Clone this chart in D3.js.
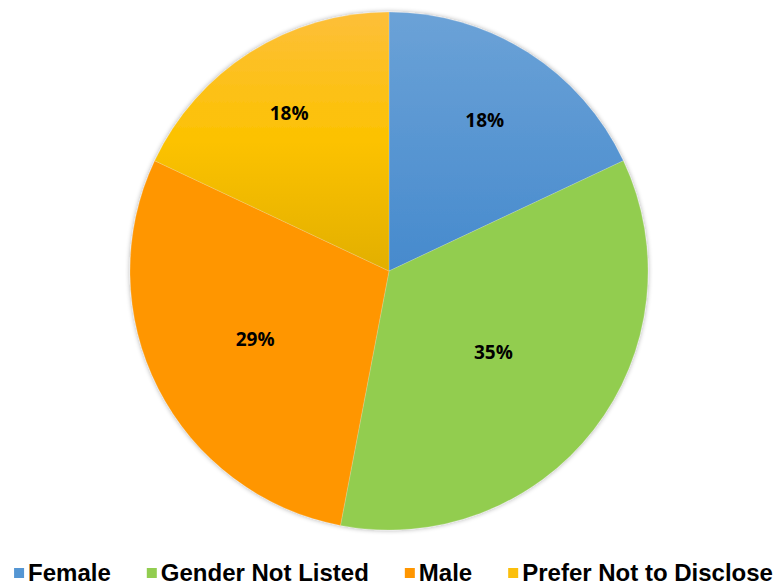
<!DOCTYPE html>
<html>
<head>
<meta charset="utf-8">
<script src="https://d3js.org/d3.v7.min.js"></script>
<style>
  body { margin: 0; background: #fff; }
  .slice-label { font-family: "Open Sans", "Liberation Sans", sans-serif; font-weight: bold; font-size: 19px; fill: #000; }
  .legend-text { font-family: "Liberation Sans", Arial, sans-serif; font-weight: bold; font-size: 24px; fill: #000; }
</style>
</head>
<body>
<script>
// chart data
var categories = ["Female", "Gender Not Listed", "Male", "Prefer Not to Disclose"];
var values = [18, 35, 29, 18];
var colors = ["#5596d3", "#92cd50", "#ff9600", "#fbbf0c"];

var width = 779, height = 586;
var cx = 389, cy = 271, radius = 259;
// where each label sits along its slice, as a share of the radius
var labelRadii = [0.69, 0.51, 0.58, 0.72];

var svg = d3.select("body").append("svg")
    .attr("width", width)
    .attr("height", height);

var defs = svg.append("defs");

// soft shadow round the pie
var f = defs.append("filter").attr("id", "shadow")
    .attr("x", "-10%").attr("y", "-10%").attr("width", "120%").attr("height", "120%");
f.append("feGaussianBlur").attr("in", "SourceAlpha").attr("stdDeviation", 2.5);
f.append("feOffset").attr("dx", 0).attr("dy", 0).attr("result", "blur");
f.append("feComponentTransfer").append("feFuncA").attr("type", "linear").attr("slope", 0.35);
var m = f.append("feMerge");
m.append("feMergeNode");
m.append("feMergeNode").attr("in", "SourceGraphic");

// vertical shading on the blue and yellow slices (coords are relative to pie centre)
var blueGrad = defs.append("linearGradient").attr("id", "g0")
    .attr("gradientUnits", "userSpaceOnUse")
    .attr("x1", 0).attr("y1", -radius).attr("x2", 0).attr("y2", 0);
blueGrad.append("stop").attr("offset", "0%").attr("stop-color", "#6ba2d7");
blueGrad.append("stop").attr("offset", "100%").attr("stop-color", "#468acd");

var yellowGrad = defs.append("linearGradient").attr("id", "g3")
    .attr("gradientUnits", "userSpaceOnUse")
    .attr("x1", 0).attr("y1", -radius).attr("x2", 0).attr("y2", 0);
yellowGrad.append("stop").attr("offset", "0%").attr("stop-color", "#fdbf3a");
yellowGrad.append("stop").attr("offset", "50%").attr("stop-color", "#fcc200");
yellowGrad.append("stop").attr("offset", "100%").attr("stop-color", "#e2af00");

var fills = [ "url(#g0)", colors[1], colors[2], "url(#g3)" ];

var pie = d3.pie().sort(null).value(function(d) { return d; });
var arcs = pie(values);

var arc = d3.arc().innerRadius(0).outerRadius(radius);

var g = svg.append("g").attr("transform", "translate(" + cx + "," + cy + ")");

g.append("g").attr("filter", "url(#shadow)")
  .selectAll("path")
  .data(arcs)
  .enter().append("path")
    .attr("d", arc)
    .attr("fill", function(d, i) { return fills[i]; })
    .attr("stroke", "rgba(255,255,255,0.25)")
    .attr("stroke-width", 0.7);

g.selectAll("text.slice-label")
  .data(arcs)
  .enter().append("text")
    .attr("class", "slice-label")
    .attr("transform", function(d, i) {
      var r = radius * labelRadii[i];
      var c = d3.arc().innerRadius(r).outerRadius(r).centroid(d);
      return "translate(" + c[0] + "," + c[1] + ")";
    })
    .attr("text-anchor", "middle")
    .attr("dy", "0.36em")
    .text(function(d) { return d.value + "%"; });

// legend along the bottom
var legend = svg.append("g");
var x = 0, gap = 36, box = 10;
categories.forEach(function(c, i) {
  var it = legend.append("g").attr("transform", "translate(" + x + ",0)");
  it.append("rect")
    .attr("x", 0).attr("y", -13)
    .attr("width", box).attr("height", box)
    .attr("fill", colors[i]);
  var t = it.append("text")
    .attr("class", "legend-text")
    .attr("x", box + 4).attr("y", 0)
    .text(c);
  x += box + 4 + t.node().getComputedTextLength() + gap;
});
var total = x - gap;
legend.attr("transform", "translate(" + ((width - total) / 2 + 4) + ",581)");
</script>
</body>
</html>
